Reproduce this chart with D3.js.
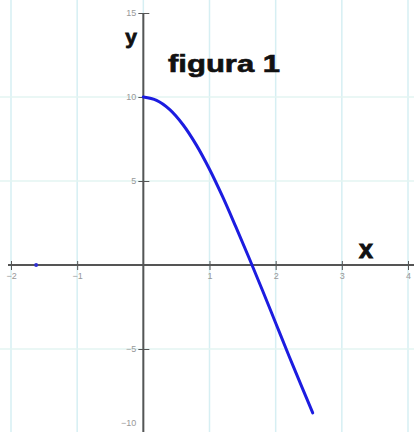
<!DOCTYPE html>
<html>
<head>
<meta charset="utf-8">
<script src="https://cdn.jsdelivr.net/npm/d3@7"></script>
<style>
  body { margin: 0; background: #fff; }
  svg { display: block; }
</style>
</head>
<body>
<svg id="chart"></svg>
<script>
// values
const curveX = [0, 0.2, 0.4, 0.6, 0.8, 1.0, 1.2, 1.4, 1.6, 1.8, 2.0, 2.2, 2.4, 2.56];
const curveY = [10, 9.8, 9.25, 8.35, 7.15, 5.7, 4.05, 2.25, 0.4, -1.5, -3.45, -5.4, -7.3, -8.8];
const dotX = [-1.62];
const dotY = [0];
const xTicks = [-2, -1, 1, 2, 3, 4];
const yTicks = [-10, -5, 5, 10, 15];
const xGrid = [-2, -1, 0, 1, 2, 3, 4];
const yGrid = [-5, 5, 10];

const width = 414;
const height = 432;

const svg = d3.select('#chart').attr('width', width).attr('height', height);

const x = d3.scaleLinear().domain([-2, 4]).range([11, 408]);
const y = d3.scaleLinear().domain([-10, 15]).range([433, 13]);

// grid
svg.append("g")
  .selectAll("line")
  .data(xGrid)
  .enter().append("line")
    .attr("x1", d => x(d)).attr("x2", d => x(d))
    .attr("y1", 0).attr("y2", height)
    .attr("stroke", "#d6eff3")
    .attr("stroke-width", 1.5);

svg.append("g")
  .selectAll("line")
  .data(yGrid)
  .enter().append("line")
    .attr("x1", 0).attr("x2", width)
    .attr("y1", d => y(d)).attr("y2", d => y(d))
    .attr("stroke", "#e3f4f2")
    .attr("stroke-width", 1.5);

// x axis
const xAxis = svg.append("g")
  .attr("transform", "translate(0," + y(0) + ")")
  .call(d3.axisBottom(x).tickValues(xTicks).tickSize(5).tickFormat(d3.format("d")));
xAxis.select(".domain").remove();
xAxis.selectAll(".tick line").attr("y1", -4).attr("y2", 5).attr("stroke", "#555");
xAxis.selectAll("text")
  .attr("y", 8)
  .style("font-family", "Liberation Sans, Arial, sans-serif")
  .style("font-size", "9px")
  .attr("fill", "#999");
svg.append("line")
  .attr("x1", 8).attr("x2", width)
  .attr("y1", y(0)).attr("y2", y(0))
  .attr("stroke", "#555").attr("stroke-width", 2);

// y axis
const yAxis = svg.append("g")
  .attr("transform", "translate(" + x(0) + ",0)")
  .call(d3.axisLeft(y).tickValues(yTicks).tickSize(5).tickFormat(d3.format("d")));
yAxis.select(".domain").remove();
yAxis.selectAll(".tick line").attr("x1", -5).attr("x2", 6).attr("stroke", "#555");
yAxis.selectAll("text")
  .attr("x", -7)
  .attr("dy", (d) => d === -10 ? "-0.8em" : "0.32em")
  .style("font-family", "Liberation Sans, Arial, sans-serif")
  .style("font-size", "9px")
  .attr("fill", "#999");
svg.append("line")
  .attr("x1", x(0)).attr("x2", x(0))
  .attr("y1", 13).attr("y2", height)
  .attr("stroke", "#555").attr("stroke-width", 2);

// curve
const pts = curveX.map((d, i) => [d, curveY[i]]);
const line = d3.line()
  .x(d => x(d[0]))
  .y(d => y(d[1]))
  .curve(d3.curveCatmullRom);

svg.append("path")
  .datum(pts)
  .attr("d", line)
  .attr("fill", "none")
  .attr("stroke", "#1c1ce0")
  .attr("stroke-width", 3)
  .attr("stroke-linecap", "round");

svg.selectAll(".dot")
  .data(dotX)
  .enter().append("circle")
    .attr("class", "dot")
    .attr("cx", d => x(d))
    .attr("cy", (d, i) => y(dotY[i]))
    .attr("r", 2)
    .attr("fill", "#3030d0");

// labels
svg.append("text")
  .attr("x", 131).attr("y", 44)
  .style("text-anchor", "middle")
  .style("font-family", "Liberation Sans, Arial, sans-serif")
  .style("font-weight", "bold")
  .style("font-size", "21px")
  .attr("fill", "#111")
  .attr("stroke", "#111").attr("stroke-width", 0.8)
  .text("y");

svg.append("text")
  .attr("x", 366).attr("y", 258)
  .style("text-anchor", "middle")
  .style("font-family", "Liberation Sans, Arial, sans-serif")
  .style("font-weight", "bold")
  .style("font-size", "25px")
  .attr("fill", "#111")
  .attr("stroke", "#111").attr("stroke-width", 1)
  .text("x");

svg.append("text")
  .attr("x", 168).attr("y", 72)
  .attr("textLength", 112)
  .attr("lengthAdjust", "spacingAndGlyphs")
  .style("font-family", "Liberation Sans, Arial, sans-serif")
  .style("font-weight", "bold")
  .style("font-size", "23px")
  .attr("fill", "#111")
  .attr("stroke", "#111").attr("stroke-width", 0.6)
  .text("figura 1");
</script>
</body>
</html>
